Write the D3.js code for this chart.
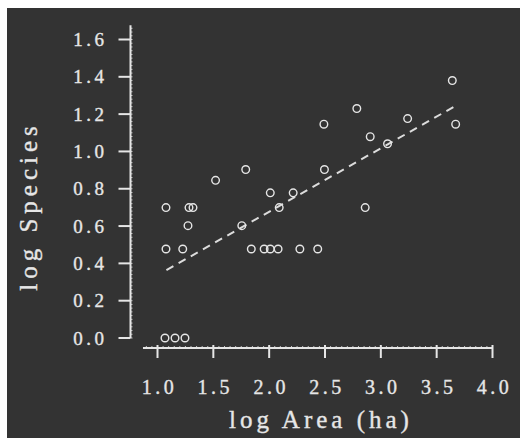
<!DOCTYPE html>
<html>
<head>
<meta charset="utf-8">
<script src="https://cdnjs.cloudflare.com/ajax/libs/d3/7.8.5/d3.min.js"></script>
<style>
  body { margin: 0; background: #fff; }
  svg { display: block; }
  text { font-family: "Liberation Serif", "DejaVu Serif", serif; fill: #e6e6e6; stroke: #e6e6e6; stroke-width: 0.35; }
</style>
</head>
<body>
<svg id="chart" width="520" height="438"></svg>
<script>
// log area (ha) and log species for each site
const logArea = [1.076, 1.076, 1.067, 1.157, 1.246, 1.226, 1.273, 1.282, 1.318, 1.52,
                 1.79, 1.755, 1.84, 1.955, 2.01, 2.08, 2.275, 2.435, 2.01, 2.09,
                 2.215, 2.495, 2.49, 2.785, 2.905, 3.06, 3.24, 3.64, 3.67, 2.86];
const logSpecies = [0.699, 0.477, 0, 0, 0, 0.477, 0.602, 0.699, 0.699, 0.845,
                    0.903, 0.602, 0.477, 0.477, 0.477, 0.477, 0.477, 0.477, 0.778, 0.699,
                    0.778, 0.903, 1.146, 1.230, 1.079, 1.041, 1.176, 1.380, 1.146, 0.699];

// fitted regression line ends
const fitX = [1.08, 3.665];
const fitY = [0.364, 1.243];

const xTicks = [1.0, 1.5, 2.0, 2.5, 3.0, 3.5, 4.0];
const yTicks = [0.0, 0.2, 0.4, 0.6, 0.8, 1.0, 1.2, 1.4, 1.6];

const fg = "#e6e6e6";
const svg = d3.select("#chart");

svg.append("rect")
    .attr("x", 7).attr("y", 8)
    .attr("width", 513).attr("height", 430)
    .attr("fill", "#333333");

const x = d3.scaleLinear().domain([1, 4]).range([157.5, 492.5]);
const y = d3.scaleLinear().domain([0, 1.6]).range([338, 39.5]);

const yAxisX = 130.5;
const xAxisY = 348;

// y axis
const gy = svg.append("g").attr("transform", `translate(${yAxisX},0)`);
gy.append("line")
    .attr("y1", y(1.677)).attr("y2", y(0))
    .attr("stroke", fg).attr("stroke-width", 2);
gy.selectAll(".minor")
    .data(d3.range(0, 1.68, 0.02))
    .enter().append("line")
    .attr("x1", 0).attr("x2", 2)
    .attr("y1", d => y(d)).attr("y2", d => y(d))
    .attr("stroke", fg).attr("stroke-width", 0.8);
gy.selectAll(".major")
    .data(yTicks)
    .enter().append("line")
    .attr("x1", -12).attr("x2", 0)
    .attr("y1", d => y(d)).attr("y2", d => y(d))
    .attr("stroke", fg).attr("stroke-width", 2);
gy.selectAll(".lab")
    .data(yTicks)
    .enter().append("text")
    .attr("x", -23)
    .attr("y", d => y(d) + 6.5)
    .attr("text-anchor", "end")
    .attr("font-size", 19)
    .attr("letter-spacing", 3.5)
    .text(d => d.toFixed(1));

// x axis
const gx = svg.append("g").attr("transform", `translate(0,${xAxisY})`);
gx.append("line")
    .attr("x1", x(0.87)).attr("x2", x(4))
    .attr("stroke", fg).attr("stroke-width", 2);
gx.selectAll(".minor")
    .data(d3.range(0.9, 4.0, 0.05))
    .enter().append("line")
    .attr("x1", d => x(d)).attr("x2", d => x(d))
    .attr("y1", -2).attr("y2", 0)
    .attr("stroke", fg).attr("stroke-width", 0.8);
gx.selectAll(".major")
    .data(xTicks)
    .enter().append("line")
    .attr("x1", d => x(d)).attr("x2", d => x(d))
    .attr("y1", -3).attr("y2", 10)
    .attr("stroke", fg).attr("stroke-width", 2);
gx.selectAll(".lab")
    .data(xTicks)
    .enter().append("text")
    .attr("x", d => x(d) + 2)
    .attr("y", 46)
    .attr("text-anchor", "middle")
    .attr("font-size", 20)
    .attr("letter-spacing", 3.5)
    .text(d => d.toFixed(1));

// titles
svg.append("text")
    .attr("x", 321).attr("y", 428)
    .attr("text-anchor", "middle")
    .attr("font-size", 25)
    .attr("letter-spacing", 4)
    .text("log Area (ha)");

svg.append("text")
    .attr("transform", "translate(37,206) rotate(-90)")
    .attr("text-anchor", "middle")
    .attr("font-size", 25)
    .attr("letter-spacing", 5)
    .text("log Species");

// regression line
svg.append("line")
    .attr("x1", x(fitX[0])).attr("y1", y(fitY[0]))
    .attr("x2", x(fitX[1])).attr("y2", y(fitY[1]))
    .attr("stroke", "#dcdcdc")
    .attr("stroke-width", 2)
    .attr("stroke-dasharray", "8,6");

// points
svg.selectAll(".pt")
    .data(logArea.map((a, i) => [a, logSpecies[i]]))
    .enter().append("circle")
    .attr("cx", d => x(d[0]))
    .attr("cy", d => y(d[1]))
    .attr("r", 3.8)
    .attr("fill", "none")
    .attr("stroke", fg)
    .attr("stroke-width", 1.4);
</script>
</body>
</html>
